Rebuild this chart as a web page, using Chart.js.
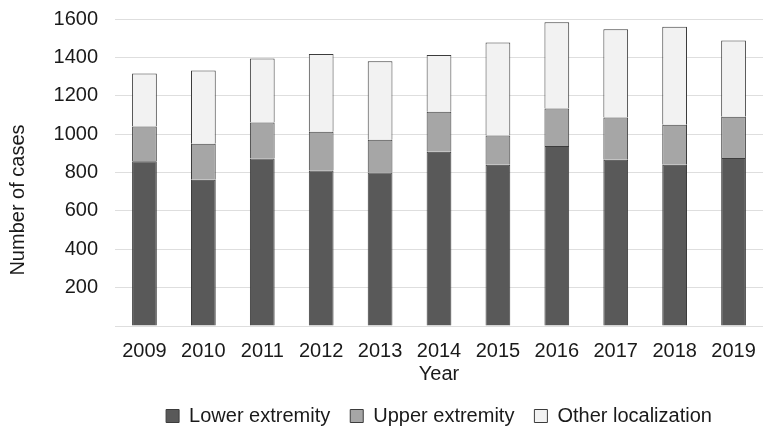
<!DOCTYPE html>
<html>
<head>
<meta charset="utf-8">
<script src="https://cdn.jsdelivr.net/npm/chart.js@4/dist/chart.umd.min.js"></script>
<style>
  html, body { margin: 0; padding: 0; background: #ffffff; }
  #wrap { width: 771px; height: 436px; }
</style>
</head>
<body>
<div id="wrap"><canvas id="c" width="771" height="436"></canvas></div>
<script>
const years = ["2009","2010","2011","2012","2013","2014","2015","2016","2017","2018","2019"];
const lowerExtremity = [859, 762, 873, 810, 800, 908, 840, 938, 866, 840, 875];
const upperExtremity = [181, 188, 187, 203, 171, 209, 153, 195, 220, 209, 216];
const otherLocalization = [276, 382, 334, 404, 409, 295, 485, 450, 460, 511, 397];
const yTicks = [0, 200, 400, 600, 800, 1000, 1200, 1400, 1600];
const yTitle = 'Number of cases';
const xTitle = 'Year';

const font = "'Liberation Sans', Arial, sans-serif";
Chart.defaults.font.family = font;
Chart.defaults.color = '#1a1a1a';

const yTitlePlugin = {
  id: 'yTitle',
  afterDraw(chart) {
    const ctx = chart.ctx;
    ctx.save();
    ctx.translate(24, 200);
    ctx.rotate(-Math.PI / 2);
    ctx.font = "20px " + font;
    ctx.fillStyle = '#1a1a1a';
    ctx.textAlign = 'center';
    ctx.textBaseline = 'alphabetic';
    ctx.fillText(yTitle, 0, 0);
    ctx.restore();
  }
};

const common = { borderColor: '#3c3c3c', borderWidth: 1, barPercentage: 0.84, categoryPercentage: 0.5 };

new Chart(document.getElementById('c'), {
  type: 'bar',
  data: {
    labels: years,
    datasets: [
      Object.assign({ label: 'Lower extremity', data: lowerExtremity, backgroundColor: '#595959' }, common),
      Object.assign({ label: 'Upper extremity', data: upperExtremity, backgroundColor: '#a6a6a6' }, common),
      Object.assign({ label: 'Other localization', data: otherLocalization, backgroundColor: '#f2f2f2' }, common)
    ]
  },
  plugins: [yTitlePlugin],
  options: {
    responsive: false,
    animation: false,
    layout: { padding: { top: 19, right: 8, left: 53, bottom: 0 } },
    plugins: {
      legend: {
        position: 'bottom',
        fullSize: false,
        labels: {
          font: { size: 20 },
          color: '#1a1a1a',
          boxWidth: 13,
          boxHeight: 13,
          padding: 20
        }
      },
      tooltip: { enabled: false }
    },
    scales: {
      x: {
        stacked: true,
        grid: { display: false, drawTicks: false },
        border: { display: false },
        ticks: { font: { size: 20 }, color: '#1a1a1a', padding: 13, maxRotation: 0 },
        title: { display: true, text: xTitle, font: { size: 20 }, color: '#1a1a1a', padding: { top: 0, bottom: 0 } },
        afterFit: (s) => { s.height = 60; s.paddingLeft = 0; s.paddingRight = 0; }
      },
      y: {
        stacked: true,
        min: 0,
        max: 1600,
        afterBuildTicks: (axis) => { axis.ticks = yTicks.map(v => ({ value: v })); },
        grid: { color: '#dedede', drawTicks: false, lineWidth: 1 },
        border: { display: false },
        ticks: {
          font: { size: 20 },
          color: '#1a1a1a',
          padding: 17,
          callback: (v) => v === 0 ? '' : v
        },
        title: { display: false },
        afterFit: (s) => { s.width = 62; s.paddingTop = 12; s.paddingBottom = 0; }
      }
    }
  }
});
</script>
</body>
</html>
